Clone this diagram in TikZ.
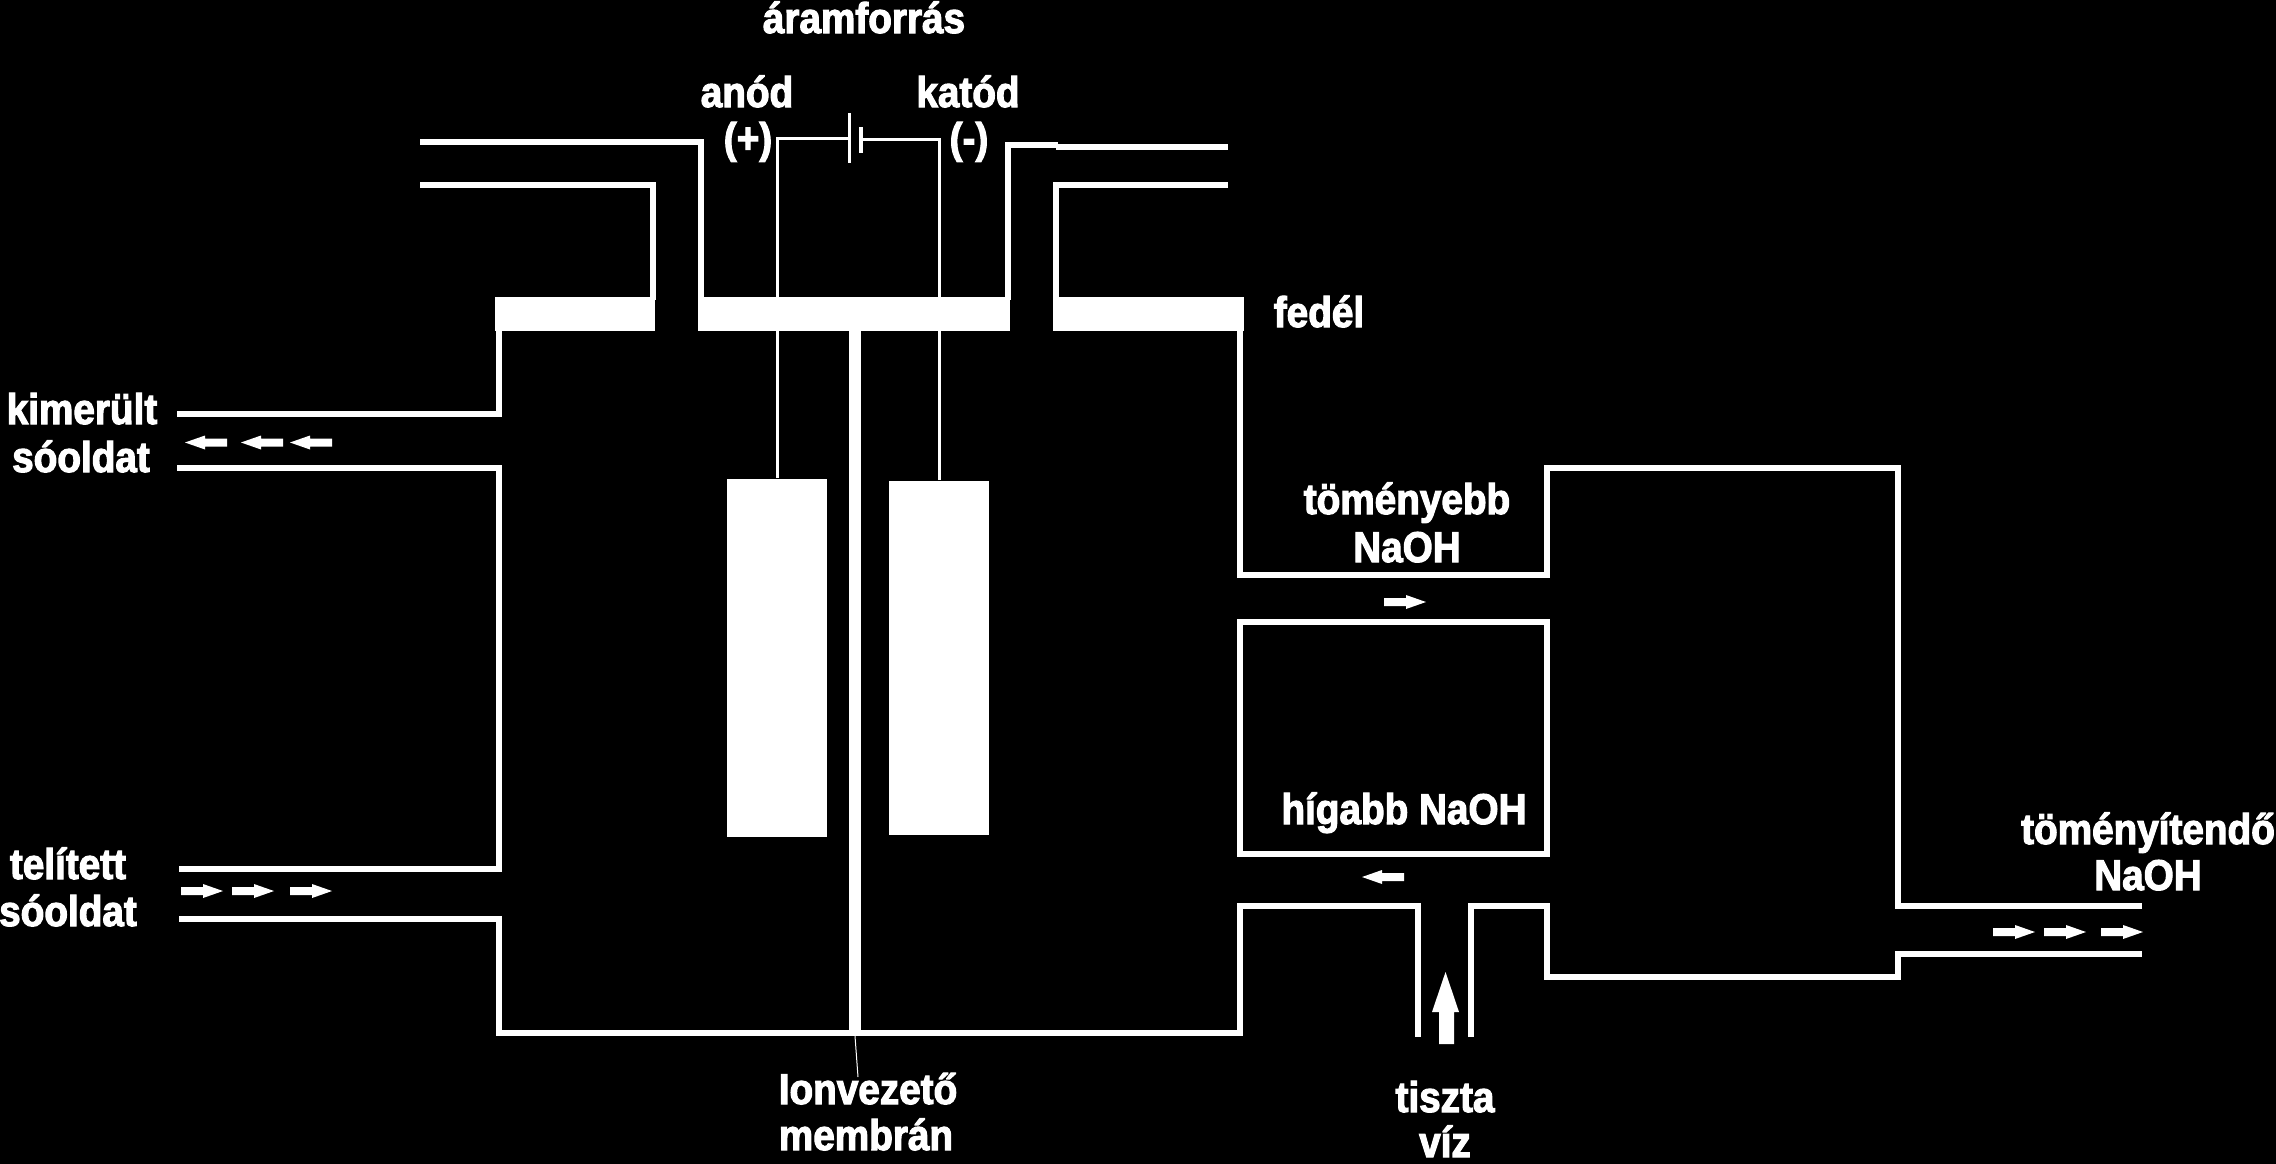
\documentclass[tikz,border=0pt]{standalone}
\usepackage{fontspec}
\newfontfamily\lab{Liberation Sans Bold}[FakeBold=2.6,FakeStretch=0.9]
\newcommand{\flowR}[2]{\fill[white] (#1,#2-4)--(#1+22,#2-4)--(#1+22,#2-7)--(#1+42,#2)--(#1+22,#2+7)--(#1+22,#2+4)--(#1,#2+4)--cycle;}
\newcommand{\flowL}[2]{\fill[white] (#1,#2-4)--(#1-22,#2-4)--(#1-22,#2-7)--(#1-42,#2)--(#1-22,#2+7)--(#1-22,#2+4)--(#1,#2+4)--cycle;}
\tikzset{
  wall/.style={draw=white,line width=3pt,line join=miter},
  wire/.style={draw=white,line width=1.5pt},
  lidbar/.style={fill=white,draw=none},
  electrode/.style={fill=white,draw=none,inner sep=0pt,minimum width=50pt,anchor=south},
  lbl/.style={text=white,font=\lab\fontsize{21.5pt}{24pt}\selectfont,inner sep=0pt,anchor=base},
}
\begin{document}
\begin{tikzpicture}[x=0.5pt,y=-0.5pt]
\useasboundingbox (0,0) rectangle (2276,1163);
\fill[black] (-5,-5) rectangle (2281,1168);
% lid
\fill[lidbar] (495,297) rectangle (655,331);
\fill[lidbar] (698,297) rectangle (1010,331);
\fill[lidbar] (1053,297) rectangle (1244,331);
% top pipes
\draw[wall] (420,142) -- (701,142) -- (701,300);
\draw[wall] (420,185) -- (653,185) -- (653,300);
\draw[wall] (1008,300) -- (1008,145) -- (1058,145);
\draw[wall] (1056,147) -- (1228,147);
\draw[wall] (1228,185) -- (1056,185) -- (1056,300);
% left cell
\draw[wall] (177,414) -- (499,414) -- (499,328);
\draw[wall] (177,468) -- (499,468) -- (499,869) -- (179,869);
\draw[wall] (179,919) -- (499,919) -- (499,1033) -- (1240,1033) -- (1240,906) -- (1418,906) -- (1418,1037);
\draw[wall] (1240,330) -- (1240,575) -- (1547,575) -- (1547,468) -- (1898,468) -- (1898,906) -- (2142,906);
\draw[wall] (1240,622) rectangle (1547,854);
\draw[wall] (1471,1037) -- (1471,906) -- (1547,906) -- (1547,977) -- (1898,977) -- (1898,954) -- (2142,954);
% membrane
\fill[white] (849,331) rectangle (861,1033);
% electrodes and battery
\node[electrode,minimum height=179pt] (anode) at (777,837) {};
\node[electrode,minimum height=177pt] (cathode) at (939,835) {};
\coordinate (plateA) at (849.5,138);
\coordinate (plateC) at (860.5,139);
\draw[wire] (anode.north) -- (777,138) -- (plateA);
\draw[wire] (cathode.north) -- (939,139) -- (plateC);
\draw[white,line width=1.5pt] (849.5,113) -- (849.5,163);
\draw[white,line width=2pt] (860.5,127) -- (860.5,153);
% flow arrows
\flowL{227}{442.5}\flowL{283}{442.5}\flowL{332}{442.5}
\flowR{181}{891}\flowR{232}{891}\flowR{290}{891}
\flowR{1384}{602}
\flowL{1404}{877}
\flowR{1993}{932}\flowR{2044}{932}\flowR{2101}{932}
\fill[white] (1439,1044)--(1439,1012)--(1432,1012)--(1445.5,972)--(1459,1012)--(1454,1012)--(1454,1044)--cycle;
% labels
\node[lbl] (aram) at (864,33) {áramforrás};
\node[lbl] (anod) at (747,107) {anód};
\node[lbl] (plus) at (748,153) {(+)};
\node[lbl] (katod) at (968,107) {katód};
\node[lbl] (minus) at (969,153) {(-)};
\node[lbl] (fedel) at (1319,327) {fedél};
\node[lbl] (kimerult) at (82,424) {kimerült};
\node[lbl] (soold1) at (81,472) {sóoldat};
\node[lbl] (telitett) at (68,879) {telített};
\node[lbl] (soold2) at (68,926) {sóoldat};
\node[lbl] (tomeny) at (1407,514) {töményebb};
\node[lbl] (naoh1) at (1407,562) {NaOH};
\node[lbl] (higabb) at (1404,824) {hígabb NaOH};
\node[lbl] (tomenyit) at (2148,844) {töményítendő};
\node[lbl] (naoh2) at (2148,890) {NaOH};
\node[lbl] (tiszta) at (1445,1112) {tiszta};
\node[lbl] (viz) at (1445,1157) {víz};
\node[lbl] (ion) at (868,1104) {Ionvezető};
\node[lbl] (membran) at (866,1150) {membrán};
\coordinate (membFoot) at (855,1036);
\draw[white,line width=0.5pt] (membFoot) -- (858,1077);
\end{tikzpicture}
\end{document}
